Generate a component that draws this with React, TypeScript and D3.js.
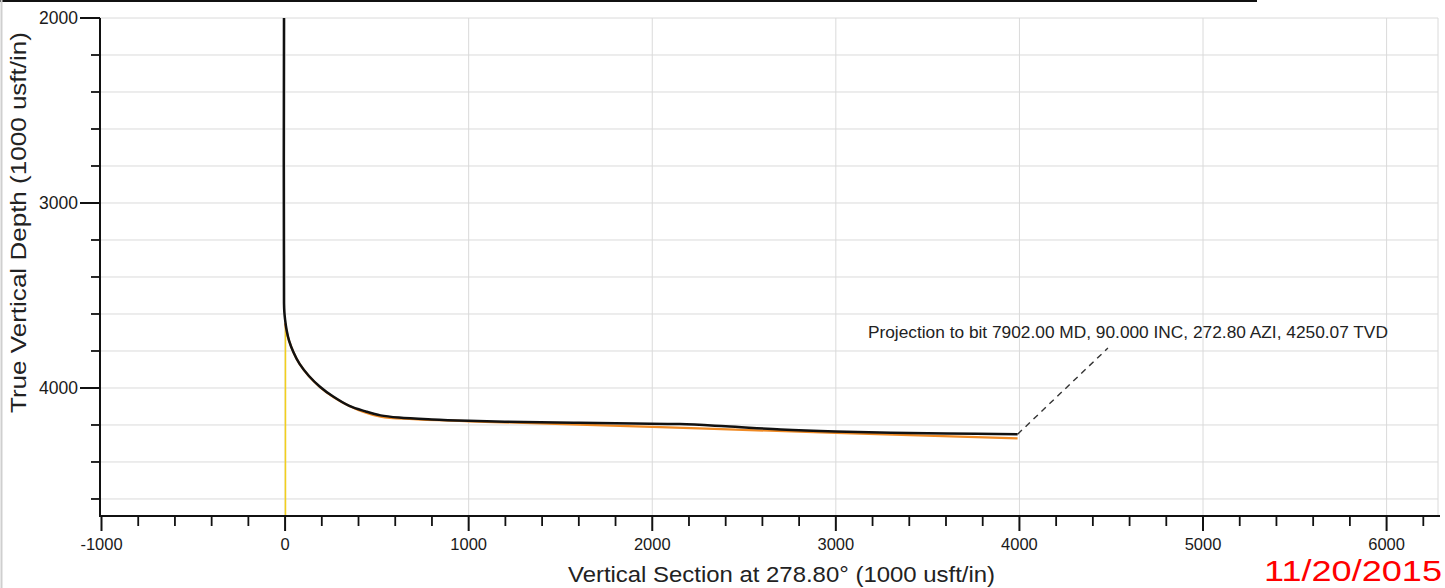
import React from "react";
import * as d3 from "d3";

// ---- data ----
const xDomain = [-1000, 6280];
const yDomain = [2000, 4692];
const xMajorTicks = [-1000, 0, 1000, 2000, 3000, 4000, 5000, 6000];
const yMajorTicks = [2000, 3000, 4000];
const gridStepY = 200;
const minorStepX = 200;

// actual survey (black): [vertical section, TVD]
const surveyVS = [-6, -6, -4, 0, 8, 22, 45, 79, 130, 190, 260, 350, 440, 520, 620, 800, 1000, 1300, 1600, 1900, 2150, 2400, 2700, 3000, 3300, 3600, 3990];
const surveyTVD = [2000, 3540, 3590, 3630, 3685, 3745, 3805, 3870, 3935, 3993, 4045, 4097, 4127, 4148, 4160, 4170, 4177, 4184, 4188, 4192, 4195, 4207, 4224, 4235, 4242, 4246, 4250];

// plan (orange)
const planVS = [0, 20, 79, 190, 350, 520, 700, 1000, 2000, 3000, 3990];
const planTVD = [3650, 3740, 3870, 3995, 4097, 4155, 4168, 4180, 4210, 4243, 4272];

// offset / other wellbore (yellow)
const yellowVS = [2, 2];
const yellowTVD = [3670, 4692];

// projection to bit (dashed leader)
const leaderVS = [3990, 4482];
const leaderTVD = [4250, 3784];

const annotation = "Projection to bit 7902.00 MD, 90.000 INC, 272.80 AZI, 4250.07 TVD";
const xTitle = "Vertical Section at 278.80\u00b0 (1000 usft/in)";
const yTitle = "True Vertical Depth (1000 usft/in)";
const stamp = "11/20/2015";

const W = 1445;
const H = 588;
const left = 100;
const right = 1438;
const top = 18;
const bottom = 516;
const FONT = "'Liberation Sans', Arial, Helvetica, sans-serif";

export default function App() {
  const x = d3.scaleLinear().domain(xDomain).range([101.5, right]);
  const y = d3.scaleLinear().domain(yDomain).range([top, bottom]);

  const line = d3
    .line<[number, number]>()
    .x((d) => x(d[0]))
    .y((d) => y(d[1]))
    .curve(d3.curveCatmullRom.alpha(0.5));
  const lineLin = d3
    .line<[number, number]>()
    .x((d) => x(d[0]))
    .y((d) => y(d[1]));

  const survey: [number, number][] = surveyVS.map((v, i) => [v, surveyTVD[i]]);
  const plan: [number, number][] = planVS.map((v, i) => [v, planTVD[i]]);
  const yellow: [number, number][] = yellowVS.map((v, i) => [v, yellowTVD[i]]);
  const leader: [number, number][] = leaderVS.map((v, i) => [v, leaderTVD[i]]);

  const gridYs = d3.range(yDomain[0], yDomain[1], gridStepY);
  const gridXs = xMajorTicks.filter((t) => t > xDomain[0]);
  const minorX = d3.range(-1000, xDomain[1], minorStepX).filter((t) => t % 1000 !== 0);
  const minorY = d3.range(yDomain[0], yDomain[1], gridStepY).filter((t) => t % 1000 !== 0);

  const lx = x(leaderVS[1]);
  const ly = y(leaderTVD[1]);

  return (
    <svg
      width={W}
      height={H}
      viewBox={`0 0 ${W} ${H}`}
      style={{ position: "absolute", left: 0, top: 0, background: "#fff" }}
    >
      <rect x={0} y={0} width={W} height={H} fill="#fff" />
      {/* scan edge artefacts */}
      <rect x={0} y={0} width={1257} height={2} fill="#111" />
      <line x1={1.5} y1={0} x2={1.5} y2={H} stroke="#cfcfcf" strokeWidth={2} />

      {/* grid */}
      <g stroke="#dadada" strokeWidth={1}>
        {gridYs.map((t) => (
          <line key={"gy" + t} x1={left} x2={right} y1={y(t)} y2={y(t)} />
        ))}
        {gridXs.map((t) => (
          <line key={"gx" + t} x1={x(t)} x2={x(t)} y1={top} y2={bottom} />
        ))}
        <line x1={right} x2={right} y1={top} y2={bottom} />
      </g>

      {/* data */}
      <path d={lineLin(yellow) || ""} fill="none" stroke="#f2cf1d" strokeWidth={1.6} />
      <path d={line(plan) || ""} fill="none" stroke="#f08a24" strokeWidth={2.2} />
      <path d={line(survey) || ""} fill="none" stroke="#111" strokeWidth={2.5} />
      <path
        d={lineLin(leader) || ""}
        fill="none"
        stroke="#333"
        strokeWidth={1.4}
        strokeDasharray="6,5"
      />
      <text
        x={lx - 240}
        y={ly - 10}
        fontFamily={FONT}
        fontSize={16}
        fill="#222"
        textLength={520}
        lengthAdjust="spacingAndGlyphs"
      >
        {annotation}
      </text>

      {/* axes */}
      <line x1={left} x2={left} y1={top} y2={bottom} stroke="#111" strokeWidth={2} />
      <line x1={left - 1} x2={right + 2} y1={bottom} y2={bottom} stroke="#111" strokeWidth={2} />

      {yMajorTicks.map((t) => (
        <g key={"ym" + t}>
          <line x1={left - 20} x2={left} y1={y(t)} y2={y(t)} stroke="#111" strokeWidth={2} />
          <text
            x={left - 22}
            y={y(t)}
            dy="0.35em"
            textAnchor="end"
            fontFamily={FONT}
            fontSize={17.5}
            fill="#1a1a1a"
          >
            {t}
          </text>
        </g>
      ))}
      {minorY.map((t) => (
        <line key={"yn" + t} x1={left - 9} x2={left} y1={y(t)} y2={y(t)} stroke="#111" strokeWidth={1.8} />
      ))}

      {xMajorTicks.map((t) => (
        <g key={"xm" + t}>
          <line x1={x(t)} x2={x(t)} y1={bottom} y2={bottom + 15} stroke="#111" strokeWidth={2} />
          <text
            x={x(t)}
            y={550}
            textAnchor="middle"
            fontFamily={FONT}
            fontSize={16.5}
            fill="#1a1a1a"
          >
            {t}
          </text>
        </g>
      ))}
      {minorX.map((t) => (
        <line key={"xn" + t} x1={x(t)} x2={x(t)} y1={bottom} y2={bottom + 10} stroke="#111" strokeWidth={1.8} />
      ))}

      {/* titles */}
      <text
        x={568}
        y={582}
        fontFamily={FONT}
        fontSize={21.5}
        fill="#222"
        textLength={427}
        lengthAdjust="spacingAndGlyphs"
      >
        {xTitle}
      </text>
      <text
        transform={`translate(26, 413) rotate(-90)`}
        fontFamily={FONT}
        fontSize={22}
        fill="#222"
        textLength={381}
        lengthAdjust="spacingAndGlyphs"
      >
        {yTitle}
      </text>
      <text
        x={1264}
        y={581}
        fontFamily={FONT}
        fontSize={30}
        fill="#ff0000"
        textLength={178}
        lengthAdjust="spacingAndGlyphs"
      >
        {stamp}
      </text>
    </svg>
  );
}
